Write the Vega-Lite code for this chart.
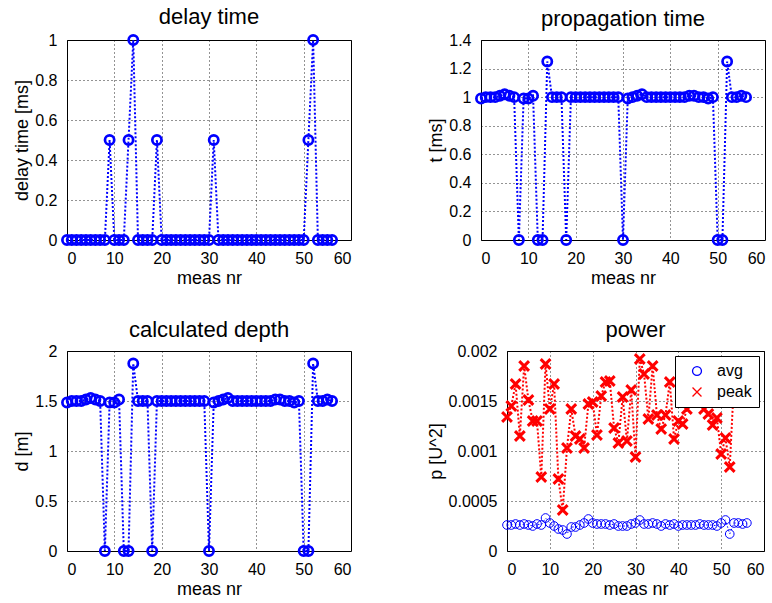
{
  "$schema": "https://vega.github.io/schema/vega-lite/v6.json",
  "padding": {"left": 13, "top": 5, "right": 5, "bottom": 5},
  "background": "white",
  "datasets": {
    "meas": [
      {"n":0,"delay":0,"prop":0.99,"depth":1.485},
      {"n":1,"delay":0,"prop":1.0,"depth":1.5},
      {"n":2,"delay":0,"prop":1.0,"depth":1.5},
      {"n":3,"delay":0,"prop":1.0,"depth":1.5},
      {"n":4,"delay":0,"prop":1.01,"depth":1.515},
      {"n":5,"delay":0,"prop":1.02,"depth":1.53},
      {"n":6,"delay":0,"prop":1.01,"depth":1.515},
      {"n":7,"delay":0,"prop":1.0,"depth":1.5},
      {"n":8,"delay":0,"prop":0,"depth":0},
      {"n":9,"delay":0.5,"prop":0.99,"depth":1.485},
      {"n":10,"delay":0,"prop":0.99,"depth":1.485},
      {"n":11,"delay":0,"prop":1.01,"depth":1.515},
      {"n":12,"delay":0,"prop":0,"depth":0},
      {"n":13,"delay":0.5,"prop":0,"depth":0},
      {"n":14,"delay":1,"prop":1.25,"depth":1.875},
      {"n":15,"delay":0,"prop":1.0,"depth":1.5},
      {"n":16,"delay":0,"prop":1.0,"depth":1.5},
      {"n":17,"delay":0,"prop":1.0,"depth":1.5},
      {"n":18,"delay":0,"prop":0,"depth":0},
      {"n":19,"delay":0.5,"prop":1.0,"depth":1.5},
      {"n":20,"delay":0,"prop":1.0,"depth":1.5},
      {"n":21,"delay":0,"prop":1.0,"depth":1.5},
      {"n":22,"delay":0,"prop":1.0,"depth":1.5},
      {"n":23,"delay":0,"prop":1.0,"depth":1.5},
      {"n":24,"delay":0,"prop":1.0,"depth":1.5},
      {"n":25,"delay":0,"prop":1.0,"depth":1.5},
      {"n":26,"delay":0,"prop":1.0,"depth":1.5},
      {"n":27,"delay":0,"prop":1.0,"depth":1.5},
      {"n":28,"delay":0,"prop":1.0,"depth":1.5},
      {"n":29,"delay":0,"prop":1.0,"depth":1.5},
      {"n":30,"delay":0,"prop":0,"depth":0},
      {"n":31,"delay":0.5,"prop":0.99,"depth":1.485},
      {"n":32,"delay":0,"prop":1.0,"depth":1.5},
      {"n":33,"delay":0,"prop":1.01,"depth":1.515},
      {"n":34,"delay":0,"prop":1.02,"depth":1.53},
      {"n":35,"delay":0,"prop":1.0,"depth":1.5},
      {"n":36,"delay":0,"prop":1.0,"depth":1.5},
      {"n":37,"delay":0,"prop":1.0,"depth":1.5},
      {"n":38,"delay":0,"prop":1.0,"depth":1.5},
      {"n":39,"delay":0,"prop":1.0,"depth":1.5},
      {"n":40,"delay":0,"prop":1.0,"depth":1.5},
      {"n":41,"delay":0,"prop":1.0,"depth":1.5},
      {"n":42,"delay":0,"prop":1.0,"depth":1.5},
      {"n":43,"delay":0,"prop":1.0,"depth":1.5},
      {"n":44,"delay":0,"prop":1.01,"depth":1.515},
      {"n":45,"delay":0,"prop":1.01,"depth":1.515},
      {"n":46,"delay":0,"prop":1.0,"depth":1.5},
      {"n":47,"delay":0,"prop":1.0,"depth":1.5},
      {"n":48,"delay":0,"prop":0.99,"depth":1.485},
      {"n":49,"delay":0,"prop":1.0,"depth":1.5},
      {"n":50,"delay":0,"prop":0,"depth":0},
      {"n":51,"delay":0.5,"prop":0,"depth":0},
      {"n":52,"delay":1,"prop":1.25,"depth":1.875},
      {"n":53,"delay":0,"prop":1.0,"depth":1.5},
      {"n":54,"delay":0,"prop":1.0,"depth":1.5},
      {"n":55,"delay":0,"prop":1.01,"depth":1.515},
      {"n":56,"delay":0,"prop":1.0,"depth":1.5}
    ],
    "power": [
      {"n":0,"series":"avg","p":0.00026},{"n":1,"series":"avg","p":0.00026},{"n":2,"series":"avg","p":0.00027},
      {"n":3,"series":"avg","p":0.00026},{"n":4,"series":"avg","p":0.00027},{"n":5,"series":"avg","p":0.00026},
      {"n":6,"series":"avg","p":0.00025},{"n":7,"series":"avg","p":0.00027},{"n":8,"series":"avg","p":0.00026},
      {"n":9,"series":"avg","p":0.00033},{"n":10,"series":"avg","p":0.00028},{"n":11,"series":"avg","p":0.00025},
      {"n":12,"series":"avg","p":0.00022},{"n":13,"series":"avg","p":0.00021},{"n":14,"series":"avg","p":0.00017},
      {"n":15,"series":"avg","p":0.00024},{"n":16,"series":"avg","p":0.00024},{"n":17,"series":"avg","p":0.00026},
      {"n":18,"series":"avg","p":0.00028},{"n":19,"series":"avg","p":0.00032},{"n":20,"series":"avg","p":0.00028},
      {"n":21,"series":"avg","p":0.00027},{"n":22,"series":"avg","p":0.00027},{"n":23,"series":"avg","p":0.00027},
      {"n":24,"series":"avg","p":0.00026},{"n":25,"series":"avg","p":0.00027},{"n":26,"series":"avg","p":0.00025},
      {"n":27,"series":"avg","p":0.00025},{"n":28,"series":"avg","p":0.00025},{"n":29,"series":"avg","p":0.00027},
      {"n":30,"series":"avg","p":0.00028},{"n":31,"series":"avg","p":0.00031},{"n":32,"series":"avg","p":0.00027},
      {"n":33,"series":"avg","p":0.00027},{"n":34,"series":"avg","p":0.00028},{"n":35,"series":"avg","p":0.00027},
      {"n":36,"series":"avg","p":0.00025},{"n":37,"series":"avg","p":0.00027},{"n":38,"series":"avg","p":0.00026},
      {"n":39,"series":"avg","p":0.00027},{"n":40,"series":"avg","p":0.00025},{"n":41,"series":"avg","p":0.00026},
      {"n":42,"series":"avg","p":0.00026},{"n":43,"series":"avg","p":0.00026},{"n":44,"series":"avg","p":0.00026},
      {"n":45,"series":"avg","p":0.00027},{"n":46,"series":"avg","p":0.00026},{"n":47,"series":"avg","p":0.00026},
      {"n":48,"series":"avg","p":0.00026},{"n":49,"series":"avg","p":0.00025},{"n":50,"series":"avg","p":0.00028},
      {"n":51,"series":"avg","p":0.00031},{"n":52,"series":"avg","p":0.00017},{"n":53,"series":"avg","p":0.00028},
      {"n":54,"series":"avg","p":0.00028},{"n":55,"series":"avg","p":0.00027},{"n":56,"series":"avg","p":0.00028},
      {"n":0,"series":"peak","p":0.00134},{"n":1,"series":"peak","p":0.00145},{"n":2,"series":"peak","p":0.00167},
      {"n":3,"series":"peak","p":0.00115},{"n":4,"series":"peak","p":0.00185},{"n":5,"series":"peak","p":0.00151},
      {"n":6,"series":"peak","p":0.0013},{"n":7,"series":"peak","p":0.0013},{"n":8,"series":"peak","p":0.00074},
      {"n":9,"series":"peak","p":0.00187},{"n":10,"series":"peak","p":0.00142},{"n":11,"series":"peak","p":0.00167},
      {"n":12,"series":"peak","p":0.00072},{"n":13,"series":"peak","p":0.00041},{"n":14,"series":"peak","p":0.00103},
      {"n":15,"series":"peak","p":0.00142},{"n":16,"series":"peak","p":0.00115},{"n":17,"series":"peak","p":0.00112},
      {"n":18,"series":"peak","p":0.00103},{"n":19,"series":"peak","p":0.00147},{"n":20,"series":"peak","p":0.00149},
      {"n":21,"series":"peak","p":0.00116},{"n":22,"series":"peak","p":0.00155},{"n":23,"series":"peak","p":0.00169},
      {"n":24,"series":"peak","p":0.0017},{"n":25,"series":"peak","p":0.00123},{"n":26,"series":"peak","p":0.00108},
      {"n":27,"series":"peak","p":0.00154},{"n":28,"series":"peak","p":0.0011},{"n":29,"series":"peak","p":0.00161},
      {"n":30,"series":"peak","p":0.00094},{"n":31,"series":"peak","p":0.00192},{"n":32,"series":"peak","p":0.00177},
      {"n":33,"series":"peak","p":0.00132},{"n":34,"series":"peak","p":0.00185},{"n":35,"series":"peak","p":0.00136},
      {"n":36,"series":"peak","p":0.00122},{"n":37,"series":"peak","p":0.00136},{"n":38,"series":"peak","p":0.00169},
      {"n":39,"series":"peak","p":0.00112},{"n":40,"series":"peak","p":0.0013},{"n":41,"series":"peak","p":0.00127},
      {"n":42,"series":"peak","p":0.00142},{"n":43,"series":"peak","p":0.0017},{"n":44,"series":"peak","p":0.0018},
      {"n":45,"series":"peak","p":0.0016},{"n":46,"series":"peak","p":0.00142},{"n":47,"series":"peak","p":0.00137},
      {"n":48,"series":"peak","p":0.00126},{"n":49,"series":"peak","p":0.00133},{"n":50,"series":"peak","p":0.00097},
      {"n":51,"series":"peak","p":0.00113},{"n":52,"series":"peak","p":0.00084},{"n":53,"series":"peak","p":0.0017},
      {"n":54,"series":"peak","p":0.0016},{"n":55,"series":"peak","p":0.0018},{"n":56,"series":"peak","p":0.0017}
    ]
  },
  "config": {
    "font": "Liberation Sans",
    "view": {"stroke": "black", "strokeWidth": 1},
    "axis": {
      "grid": true, "gridColor": "black", "gridDash": [1, 3], "gridOpacity": 0.85, "gridWidth": 1,
      "domain": false, "ticks": false,
      "labelFont": "Liberation Sans", "labelFontSize": 16, "labelColor": "black", "labelPadding": 10,
      "titleFont": "Liberation Sans", "titleFontSize": 18, "titleFontWeight": "normal", "titleColor": "black", "titlePadding": 3
    },
    "title": {"font": "Liberation Sans", "fontSize": 22, "fontWeight": "normal", "color": "black", "offset": 1, "anchor": "middle"},
    "legend": {
      "labelFont": "Liberation Sans", "labelFontSize": 16, "labelColor": "black",
      "strokeColor": "black", "fillColor": "white", "padding": 7, "symbolStrokeWidth": 1.3,
      "rowPadding": 5, "symbolSize": 80, "symbolOffset": 7, "labelOffset": 12
    }
  },
  "bounds": "flush",
  "spacing": 311,
  "resolve": {"scale": {"color": "independent", "shape": "independent"}, "legend": {"color": "independent", "shape": "independent"}},
  "vconcat": [
    {
      "bounds": "flush",
      "spacing": 130,
      "hconcat": [
        {
          "title": "delay time",
          "width": 284, "height": 200,
          "data": {"name": "meas"},
          "encoding": {
            "x": {"field": "n", "type": "quantitative", "scale": {"domain": [0, 60], "nice": false}, "axis": {"values": [0, 10, 20, 30, 40, 50, 60], "title": "meas nr"}},
            "y": {"field": "delay", "type": "quantitative", "scale": {"domain": [0, 1], "nice": false}, "axis": {"values": [0, 0.2, 0.4, 0.6, 0.8, 1], "format": "~g", "title": "delay time [ms]"}}
          },
          "layer": [
            {"mark": {"type": "line", "color": "#0000ff", "strokeWidth": 2, "strokeDash": [2, 2]}},
            {"mark": {"type": "point", "shape": "circle", "filled": false, "color": "#0000ff", "strokeWidth": 2.7, "size": 85, "opacity": 1}}
          ]
        },
        {
          "title": "propagation time",
          "width": 284, "height": 200,
          "data": {"name": "meas"},
          "encoding": {
            "x": {"field": "n", "type": "quantitative", "scale": {"domain": [0, 60], "nice": false}, "axis": {"values": [0, 10, 20, 30, 40, 50, 60], "title": "meas nr"}},
            "y": {"field": "prop", "type": "quantitative", "scale": {"domain": [0, 1.4], "nice": false}, "axis": {"values": [0, 0.2, 0.4, 0.6, 0.8, 1, 1.2, 1.4], "format": "~g", "title": "t [ms]"}}
          },
          "layer": [
            {"mark": {"type": "line", "color": "#0000ff", "strokeWidth": 2, "strokeDash": [2, 2]}},
            {"mark": {"type": "point", "shape": "circle", "filled": false, "color": "#0000ff", "strokeWidth": 2.7, "size": 85, "opacity": 1}}
          ]
        }
      ]
    },
    {
      "bounds": "flush",
      "spacing": 156,
      "resolve": {"scale": {"color": "independent", "shape": "independent"}, "legend": {"color": "independent", "shape": "independent"}},
      "hconcat": [
        {
          "title": "calculated depth",
          "width": 284, "height": 200,
          "data": {"name": "meas"},
          "encoding": {
            "x": {"field": "n", "type": "quantitative", "scale": {"domain": [0, 60], "nice": false}, "axis": {"values": [0, 10, 20, 30, 40, 50, 60], "title": "meas nr"}},
            "y": {"field": "depth", "type": "quantitative", "scale": {"domain": [0, 2], "nice": false}, "axis": {"values": [0, 0.5, 1, 1.5, 2], "format": "~g", "title": "d [m]"}}
          },
          "layer": [
            {"mark": {"type": "line", "color": "#0000ff", "strokeWidth": 2, "strokeDash": [2, 2]}},
            {"mark": {"type": "point", "shape": "circle", "filled": false, "color": "#0000ff", "strokeWidth": 2.7, "size": 85, "opacity": 1}}
          ]
        },
        {
          "title": "power",
          "width": 257, "height": 200,
          "data": {"name": "power"},
          "encoding": {
            "x": {"field": "n", "type": "quantitative", "scale": {"domain": [0, 60], "nice": false}, "axis": {"values": [0, 10, 20, 30, 40, 50, 60], "title": "meas nr"}},
            "y": {"field": "p", "type": "quantitative", "scale": {"domain": [0, 0.002], "nice": false}, "axis": {"values": [0, 0.0005, 0.001, 0.0015, 0.002], "format": "~g", "title": "p [U^2]"}},
            "color": {"field": "series", "type": "nominal", "scale": {"domain": ["avg", "peak"], "range": ["#0000ff", "#ff0000"]},
              "legend": {"title": null, "orient": "top-right", "offset": 5}},
            "shape": {"field": "series", "type": "nominal", "scale": {"domain": ["avg", "peak"], "range": ["circle", "M-1,-1L1,1M-1,1L1,-1"]},
              "legend": {"title": null, "orient": "top-right", "offset": 5}}
          },
          "layer": [
            {"transform": [{"filter": "datum.series === 'avg'"}], "mark": {"type": "line", "strokeWidth": 1, "strokeDash": [1.5, 2.5]}, "encoding": {"shape": null}},
            {"transform": [{"filter": "datum.series === 'peak'"}], "mark": {"type": "line", "strokeWidth": 2, "strokeDash": [2, 2]}, "encoding": {"shape": null}},
            {"transform": [{"filter": "datum.series === 'avg'"}], "mark": {"type": "point", "filled": false, "strokeWidth": 1, "size": 75, "opacity": 1}},
            {"transform": [{"filter": "datum.series === 'peak'"}], "mark": {"type": "point", "filled": false, "strokeWidth": 3, "size": 95, "opacity": 1}}
          ]
        }
      ]
    }
  ]
}
